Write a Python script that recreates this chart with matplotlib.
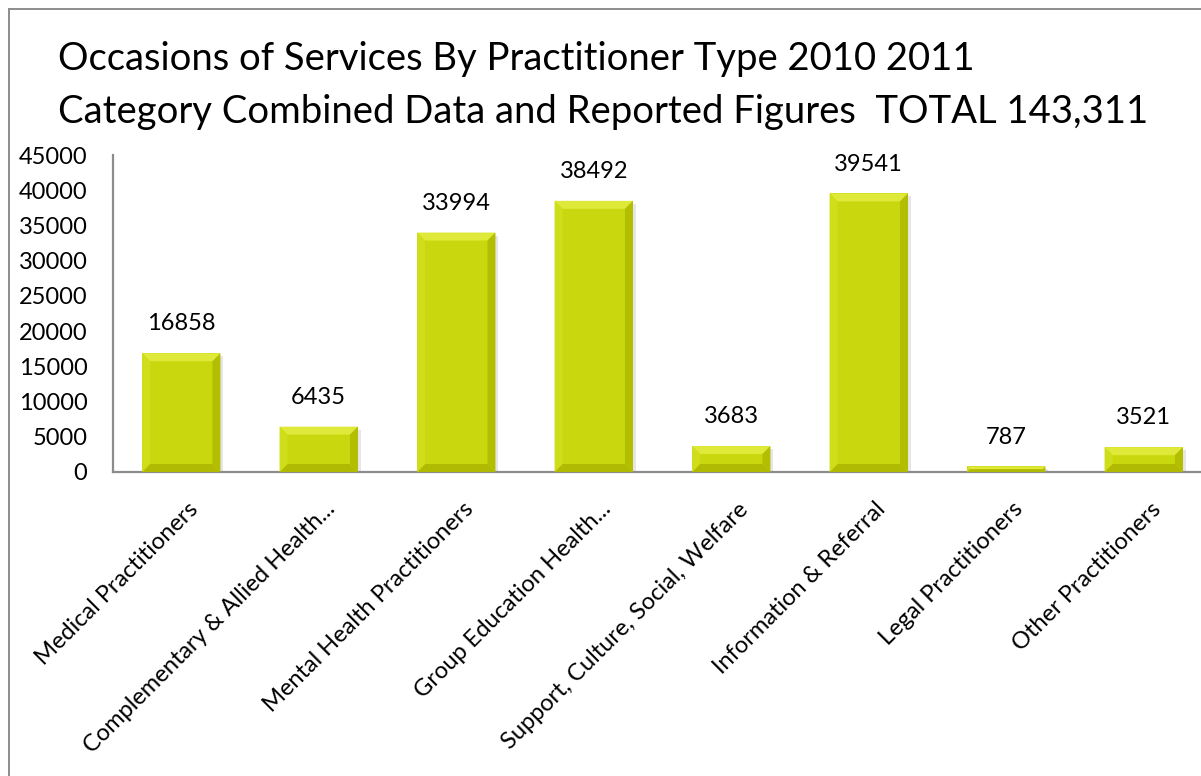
import matplotlib
matplotlib.use("Agg")
import matplotlib.pyplot as plt
import matplotlib.transforms as mtransforms
from matplotlib.patches import Polygon
from matplotlib.lines import Line2D

categories = ["Medical Practitioners", "Complementary & Allied Health...",
              "Mental Health Practitioners", "Group Education Health...",
              "Support, Culture, Social, Welfare", "Information & Referral",
              "Legal Practitioners", "Other Practitioners"]
values = [16858, 6435, 33994, 38492, 3683, 39541, 787, 3521]
yticks = [0, 5000, 10000, 15000, 20000, 25000, 30000, 35000, 40000, 45000]
title_lines = ["Occasions of Services By Practitioner Type 2010 2011",
               "Category Combined Data and Reported Figures  TOTAL 143,311"]

plt.rcParams['font.family'] = ['Lato', 'DejaVu Sans']

W, H, DPI = 1201, 776, 100
fig = plt.figure(figsize=(W / DPI, H / DPI), dpi=DPI)
fig.patch.set_facecolor('white')

# axes placed in pixels: y axis at x=112, baseline at y=472, 45000 at y=155
ax = fig.add_axes([112.5 / W, (H - 472) / H, 1100 / W, 317 / H])

face = '#C9D80E'
bw = 0.57
x = list(range(len(values)))
bars = ax.bar(x, values, width=bw, color=face, edgecolor='none', zorder=2)

ax.set_xlim(-0.5, len(values) - 0.5)
ax.set_ylim(0, 45000)

# bevel decoration on each bar, about 8 px
px_x = 1.0 / 137.5
px_y = 45000 / 317.0
for b in bars:
    x0 = b.get_x()
    x1 = x0 + b.get_width()
    y1 = b.get_height()
    hb = min(8 * px_y, y1 / 2)
    wb = 8 * px_x * hb / (8 * px_y)
    top = [(x0, y1), (x1, y1), (x1 - wb, y1 - hb), (x0 + wb, y1 - hb)]
    bot = [(x0, 0), (x1, 0), (x1 - wb, hb), (x0 + wb, hb)]
    left = [(x0, 0), (x0, y1), (x0 + wb, y1 - hb), (x0 + wb, hb)]
    right = [(x1, 0), (x1, y1), (x1 - wb, y1 - hb), (x1 - wb, hb)]
    for pts, c in [(top, '#DEE93A'), (bot, '#B0BA02'), (left, '#CFDD1A'), (right, '#B3BE03')]:
        ax.add_patch(Polygon(pts, closed=True, facecolor=c, edgecolor='none', zorder=3))
    # soft shadow on the right
    ax.add_patch(Polygon([(x1, 0), (x1, y1 - 3 * px_y), (x1 + 3 * px_x, y1 - 3 * px_y),
                          (x1 + 3 * px_x, 0)], closed=True, facecolor='#e6e6e6',
                         edgecolor='none', zorder=1))

for xi, v in zip(x, values):
    ax.annotate(str(v), (xi, v), xytext=(0, 13.5), textcoords='offset points',
                ha='center', va='bottom', fontsize=17, color='black')

ax.set_yticks(yticks)
ax.set_yticklabels([str(t) for t in yticks], fontsize=17)
ax.tick_params(axis='y', length=0, pad=18)
ax.set_xticks(x)
ax.set_xticklabels(categories, rotation=45, ha='right', va='top',
                   rotation_mode='anchor', fontsize=17)
ax.tick_params(axis='x', length=0, pad=19)
shift = mtransforms.ScaledTranslation(6 / DPI, 0, fig.dpi_scale_trans)
for lab in ax.get_xticklabels():
    lab.set_transform(lab.get_transform() + shift)

for s in ['top', 'right']:
    ax.spines[s].set_visible(False)
for s in ['left', 'bottom']:
    ax.spines[s].set_color('#8c8c8c')
    ax.spines[s].set_linewidth(1.6)
ax.patch.set_alpha(0)

# outer chart frame (left and top edges visible)
fig.add_artist(Line2D([8.5 / W, 8.5 / W], [0, (H - 9) / H], transform=fig.transFigure,
                      color='#8c8c8c', lw=1.4))
fig.add_artist(Line2D([8.5 / W, 1], [(H - 9) / H, (H - 9) / H], transform=fig.transFigure,
                      color='#8c8c8c', lw=1.4))

fig.text(58 / W, (H - 70) / H, title_lines[0], fontsize=27.5, ha='left', va='baseline')
fig.text(58 / W, (H - 123) / H, title_lines[1], fontsize=27.5, ha='left', va='baseline')

fig.savefig('out.png', dpi=DPI, facecolor='white')
